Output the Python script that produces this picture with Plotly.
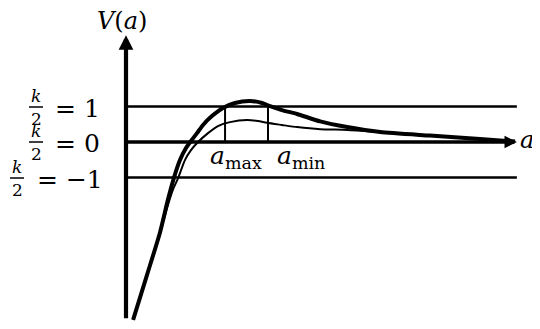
import plotly.graph_objects as go

# ---- data (a, V) ----
thick_a = [0.20, 0.59, 0.96, 1.18, 1.35, 1.52, 1.69, 1.83, 2.00, 2.17, 2.42, 2.73, 3.07, 3.49, 3.83, 4.06, 4.39, 4.82, 5.47, 6.23, 7.16, 8.56, 9.97, 10.96]
thick_V = [-5.01, -3.75, -2.54, -1.63, -1.01, -0.51, -0.17, 0.03, 0.25, 0.48, 0.73, 0.96, 1.10, 1.155, 1.10, 1.01, 0.90, 0.79, 0.58, 0.42, 0.28, 0.18, 0.085, 0.014]
thin_a = [0.20, 0.59, 0.96, 1.18, 1.32, 1.47, 1.66, 1.83, 2.03, 2.31, 2.59, 2.93, 3.41, 3.72, 3.97, 4.39, 4.82, 5.47, 6.23, 7.16, 8.56, 9.97, 10.96]
thin_V = [-5.01, -3.75, -2.56, -1.78, -1.35, -1.01, -0.51, -0.23, 0.00, 0.25, 0.45, 0.56, 0.62, 0.59, 0.54, 0.48, 0.42, 0.36, 0.34, 0.28, 0.18, 0.085, 0.014]
levels = [1, 0, -1]
level_labels = ["1", "0", "\u22121"]
a_max, a_min = 2.79, 4.00
a_end = 11.01
V_bottom, V_top = -5.01, 3.01

# ---- pixel helpers for layout positioning (screen pixels; page has 8px body margin) ----
S = 35.5
X0, Y0 = 126, 142
OFF = 8
W, H = 540 - OFF, 329 - OFF
def ax_(px):
    return (px - X0) / S
def vy(py):
    return (Y0 - py) / S

FONT = "DejaVu Serif"
fig = go.Figure()

for lv in [1, -1]:
    fig.add_trace(go.Scatter(x=[0, a_end], y=[lv, lv], mode="lines",
                             line=dict(color="black", width=2.5), hoverinfo="skip"))
for av in [a_max, a_min]:
    fig.add_trace(go.Scatter(x=[av, av], y=[0, 1], mode="lines",
                             line=dict(color="black", width=2), hoverinfo="skip"))
fig.add_trace(go.Scatter(x=thin_a, y=thin_V, mode="lines",
                         line=dict(color="black", width=2, shape="spline", smoothing=0.6), hoverinfo="skip"))
fig.add_trace(go.Scatter(x=thick_a, y=thick_V, mode="lines",
                         line=dict(color="black", width=4, shape="spline", smoothing=0.6), hoverinfo="skip"))

ann = []
ann.append(dict(x=a_end, y=0, ax=0, ay=0, xref="x", yref="y", axref="x", ayref="y",
                showarrow=True, arrowhead=2, arrowsize=0.75, arrowwidth=3.3, arrowcolor="black",
                standoff=0, text=""))
ann.append(dict(x=0, y=V_top, ax=0, ay=V_bottom, xref="x", yref="y", axref="x", ayref="y",
                showarrow=True, arrowhead=2, arrowsize=0.7, arrowwidth=4.2, arrowcolor="black",
                standoff=0, text=""))

def txt(px, py, t, size, xanchor="center"):
    ann.append(dict(x=ax_(px), y=vy(py), text=t, showarrow=False, xref="x", yref="y",
                    xanchor=xanchor, yanchor="middle",
                    font=dict(family=FONT, size=size, color="black")))

txt(122, 21, "<i>V</i>(<i>a</i>)", 24)
txt(527, 140, "<i>a</i>", 24)
txt(236, 157, "<i>a</i><sub>max</sub>", 25)
txt(301, 157, "<i>a</i><sub>min</sub>", 25)

frac = [(36, 107, 53), (36, 142, 53), (17, 178, 35)]
shapes = []
for (cx, cy, eqx), lab in zip(frac, level_labels):
    txt(cx, cy - 11, "<i>k</i>", 17)
    txt(cx, cy + 12, "2", 17)
    shapes.append(dict(type="line", xref="x", yref="y", x0=ax_(cx - 7), x1=ax_(cx + 7),
                       y0=vy(cy), y1=vy(cy), line=dict(color="black", width=1.5)))
    txt(eqx, cy + 1, "= " + lab, 25, xanchor="left")

fig.update_layout(
    width=W, height=H, margin=dict(l=0, r=0, t=0, b=0),
    paper_bgcolor="white", plot_bgcolor="white", showlegend=False,
    font=dict(family=FONT),
    xaxis=dict(range=[ax_(OFF), ax_(540)], visible=False, fixedrange=True),
    yaxis=dict(range=[vy(329), vy(OFF)], visible=False, fixedrange=True),
    annotations=ann, shapes=shapes,
)
fig.write_html("out.html")
